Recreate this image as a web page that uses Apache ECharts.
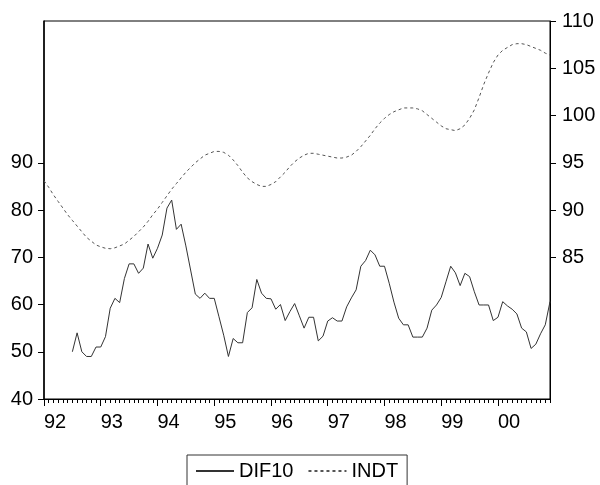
<!DOCTYPE html>
<html><head><meta charset="utf-8">
<script src="https://cdn.jsdelivr.net/npm/echarts@6/dist/echarts.min.js"></script>
<style>html,body{margin:0;padding:0;background:#fff}#c{width:600px;height:485px}</style>
</head><body><div id="c"></div>
<script>
const years = [1992,1993,1994,1995,1996,1997,1998,1999,2000];
const yearLabels = ['92','93','94','95','96','97','98','99','00'];
const leftTicks = [40,50,60,70,80,90];
const rightTicks = [85,90,95,100,105,110];
const months = [];
years.forEach(function(y){ for (let m = 1; m <= 12; m++) months.push(y + 'M' + (m < 10 ? '0' + m : m)); });

const dif10 = [null,null,null,null,null,null,
  50,54,50,49,49,51,
  51,53.2,59.2,61.3,60.4,65.5,68.6,68.6,66.6,67.7,72.8,69.8,
  71.9,74.7,80.4,82.1,75.9,77,72.4,67.3,62.2,61.3,62.4,61.3,
  61.3,57.4,53.5,49,52.8,51.9,51.9,58.3,59.3,65.3,62.4,61.3,
  61.2,59,60,56.6,58.5,60.2,57.6,55,57.3,57.3,52.3,53.3,
  56.5,57.2,56.5,56.5,59.5,61.4,63.1,68.1,69.3,71.5,70.5,68.1,
  68.1,64.5,60.5,57.1,55.7,55.7,53.1,53.1,53.1,55,58.8,59.9,
  61.5,64.8,68.1,66.7,64,66.6,65.9,62.7,59.9,59.9,59.9,56.6,
  57.3,60.6,59.7,59,58,55,54.2,50.7,51.6,53.8,55.7,60.6];

const indt = [
  93.1,92.4,91.6,90.9,90.2,89.5,88.9,88.3,87.7,87.1,86.7,86.3,
  86.1,85.95,85.9,86.0,86.2,86.4,86.8,87.2,87.7,88.2,88.8,89.5,
  90.1,90.8,91.5,92.2,92.8,93.4,94.0,94.5,95.0,95.4,95.8,96.0,
  96.2,96.2,96.1,95.8,95.3,94.7,94.0,93.4,93.0,92.7,92.5,92.5,
  92.7,93.0,93.5,94.0,94.6,95.1,95.5,95.8,96.0,96.0,95.9,95.8,
  95.7,95.6,95.5,95.5,95.6,95.8,96.2,96.7,97.3,97.9,98.6,99.2,
  99.7,100.1,100.4,100.6,100.8,100.8,100.8,100.7,100.5,100.1,99.7,99.3,
  98.9,98.6,98.5,98.4,98.6,99.0,99.7,100.6,101.9,103.3,104.5,105.6,
  106.4,106.9,107.2,107.5,107.6,107.6,107.5,107.3,107.1,106.9,106.6,106.4];

const FONT = '"Liberation Sans", Arial, sans-serif';
const chart = echarts.init(document.getElementById('c'), null, {renderer: 'canvas'});
chart.setOption({
  backgroundColor: '#fff',
  animation: false,
  grid: {left: 44, right: 50, top: 21, bottom: 86, show: true, borderColor: '#000', borderWidth: 1, backgroundColor: 'transparent'},
  legend: {
    left: 187, top: 455,
    data: ['DIF10', 'INDT'],
    borderColor: '#333', borderWidth: 1, borderRadius: 0,
    padding: [6, 9, 10, 8],
    itemWidth: 38, itemHeight: 14, itemGap: 14,
    itemStyle: {opacity: 0},
    textStyle: {fontFamily: FONT, fontSize: 20, color: '#000'}
  },
  xAxis: [{
    type: 'category', data: months, boundaryGap: false,
    axisLine: {show: true, lineStyle: {color: '#000', width: 1}},
    axisTick: {show: true, interval: 0, length: 4, lineStyle: {color: '#000'}},
    axisLabel: {show: false},
    splitLine: {show: false}
  }, {
    type: 'category', data: months, boundaryGap: false, position: 'bottom',
    axisLine: {show: false},
    axisTick: {show: true, length: 7, interval: function(i){ return i % 12 === 0; }, lineStyle: {color: '#000'}},
    axisLabel: {
      show: true, interval: function(i){ return i % 12 === 0; },
      formatter: function(v, i){ return yearLabels[Math.floor(i / 12)]; },
      align: 'left', margin: 13, fontFamily: FONT, fontSize: 20, color: '#000'
    },
    splitLine: {show: false}
  }],
  yAxis: [{
    type: 'value', min: 40, max: 120, interval: 10, position: 'left',
    axisLine: {show: true, lineStyle: {color: '#000', width: 1.5}},
    axisTick: {show: true, length: 6, customValues: leftTicks, lineStyle: {color: '#000'}},
    axisLabel: {customValues: leftTicks, margin: 11, fontFamily: FONT, fontSize: 20, color: '#000'},
    splitLine: {show: false}
  }, {
    type: 'value', min: 70, max: 110, interval: 5, position: 'right',
    axisLine: {show: true, lineStyle: {color: '#000', width: 1}},
    axisTick: {show: true, length: 6, customValues: rightTicks, lineStyle: {color: '#000'}},
    axisLabel: {customValues: rightTicks, margin: 12, fontFamily: FONT, fontSize: 20, color: '#000'},
    splitLine: {show: false}
  }],
  series: [{
    name: 'DIF10', type: 'line', data: dif10, xAxisIndex: 0, yAxisIndex: 0,
    symbol: 'none', connectNulls: false,
    lineStyle: {color: '#333', width: 1, type: 'solid'},
    itemStyle: {color: '#333'}
  }, {
    name: 'INDT', type: 'line', data: indt, xAxisIndex: 0, yAxisIndex: 1,
    symbol: 'none',
    lineStyle: {color: '#555', width: 1, type: [3, 3]},
    itemStyle: {color: '#555'}
  }]
});
</script></body></html>
